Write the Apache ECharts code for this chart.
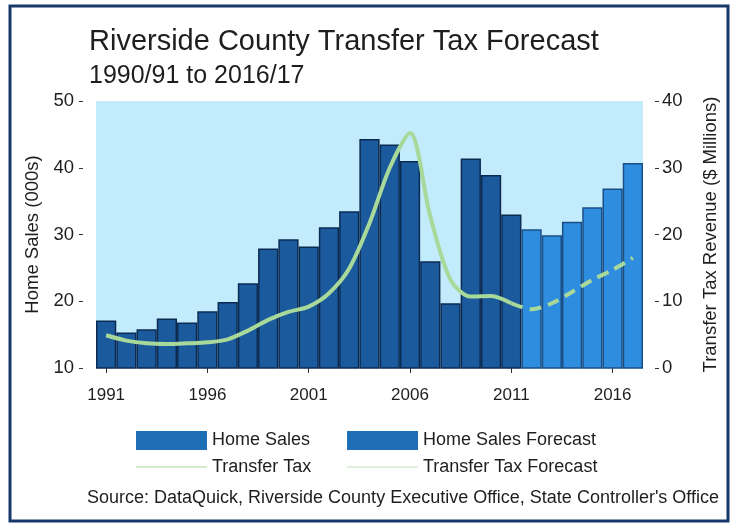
<!DOCTYPE html>
<html>
<head>
<meta charset="utf-8">
<script src="https://cdn.jsdelivr.net/npm/echarts@6/dist/echarts.min.js"></script>
<style>
html,body{margin:0;padding:0;background:#fff;}
#chart{width:735px;height:525px;}
</style>
</head>
<body>
<div id="chart"></div>
<script>
// ---- data ----
const years = ['1991','1992','1993','1994','1995','1996','1997','1998','1999','2000','2001','2002','2003','2004','2005','2006','2007','2008','2009','2010','2011','2012','2013','2014','2015','2016','2017'];
const tickYears = ['1991','1996','2001','2006','2011','2016'];
// Home sales (000s), actual 1991-2011
const homeSales = [17.1, 15.3, 15.8, 17.4, 16.8, 18.5, 19.9, 22.7, 27.9, 29.3, 28.2, 31.1, 33.5, 44.3, 43.5, 41.0, 26.0, 19.7, 41.4, 38.9, 33.0];
// Home sales forecast (000s), 2012-2017
const homeSalesForecast = [30.8, 29.9, 31.9, 34.1, 36.9, 40.7];
// Transfer tax revenue ($ millions), actual 1991-2011
const transferTax = [4.9, 4.1, 3.7, 3.6, 3.7, 3.85, 4.3, 5.6, 7.2, 8.4, 9.2, 11.2, 14.9, 21.7, 30.0, 35.2, 22.7, 13.2, 10.7, 10.8, 9.7];
// Transfer tax forecast ($ millions), 2011-2017
const transferTaxForecast = [9.7, 8.8, 9.7, 11.4, 13.2, 14.7, 16.5];
const leftTicks = [10, 20, 30, 40, 50];
const rightTicks = [0, 10, 20, 30, 40];

// ---- build aligned series arrays ----
const n = years.length;
const salesHist = years.map((y, i) => i < homeSales.length ? homeSales[i] : '-');
const fcStart = n - homeSalesForecast.length;
const salesFc = years.map((y, i) => i >= fcStart ? homeSalesForecast[i - fcStart] : '-');
const taxHist = years.map((y, i) => i < transferTax.length ? transferTax[i] : '-');
const taxFcStart = n - transferTaxForecast.length;
const taxFc = years.map((y, i) => i >= taxFcStart ? transferTaxForecast[i - taxFcStart] : '-');

const FONT = '"Liberation Sans", Arial, Helvetica, sans-serif';
const TXT = '#1e1e1e';
const chart = echarts.init(document.getElementById('chart'), null, {renderer: 'canvas'});

const lineColor = '#a8d99a';
const legendText = {fontFamily: FONT, fontSize: 18, color: TXT};

const option = {
  backgroundColor: '#ffffff',
  animation: false,
  textStyle: {fontFamily: FONT, color: TXT},
  title: [
    {text: 'Riverside County Transfer Tax Forecast', left: 84, top: 22,
     textStyle: {fontFamily: FONT, fontSize: 29, fontWeight: 'normal', color: TXT}},
    {text: '1990/91 to 2016/17', left: 84, top: 59,
     textStyle: {fontFamily: FONT, fontSize: 25, fontWeight: 'normal', color: TXT}},
    {text: "Source: DataQuick, Riverside County Executive Office, State Controller's Office", left: 82, top: 484,
     textStyle: {fontFamily: FONT, fontSize: 18, fontWeight: 'normal', color: TXT}}
  ],
  graphic: [
    {type: 'rect', shape: {x: 10, y: 6, width: 718, height: 515},
     style: {fill: 'none', stroke: '#16386b', lineWidth: 3}, silent: true, z: 100}
  ],
  legend: [
    {data: [{name: 'Home Sales', icon: 'rect', itemStyle: {color: '#1f6fb6', borderWidth: 0}}], left: 131, top: 426, itemWidth: 71, itemHeight: 19, itemGap: 10,
     textStyle: legendText, selectedMode: false},
    {data: [{name: 'Home Sales Forecast', icon: 'rect', itemStyle: {color: '#1f6fb6', borderWidth: 0}}], left: 342, top: 426, itemWidth: 71, itemHeight: 19, itemGap: 10,
     textStyle: legendText, selectedMode: false},
    {data: [{name: 'Transfer Tax', icon: 'rect', itemStyle: {color: '#d3eacc', borderWidth: 0}}], left: 131, top: 453, itemWidth: 71, itemHeight: 2, itemGap: 10,
     textStyle: legendText, selectedMode: false},
    {data: [{name: 'Transfer Tax Forecast', icon: 'rect', itemStyle: {color: '#e0f0da', borderWidth: 0}}], left: 342, top: 453, itemWidth: 71, itemHeight: 2, itemGap: 10,
     textStyle: legendText, selectedMode: false}
  ],
  grid: {left: 96, right: 92, top: 101, bottom: 157, show: true, backgroundColor: '#c2ecfb', borderWidth: 0, containLabel: false},
  xAxis: {
    type: 'category', data: years, boundaryGap: true, offset: 7,
    axisLine: {show: false},
    axisTick: {show: true, alignWithLabel: true, length: 5, lineStyle: {color: '#333'},
               interval: (i, v) => tickYears.indexOf(v) >= 0},
    axisLabel: {interval: (i, v) => tickYears.indexOf(v) >= 0, fontSize: 17, color: TXT, fontFamily: FONT, margin: 12},
    splitLine: {show: false}
  },
  yAxis: [
    {type: 'value', min: leftTicks[0], max: leftTicks[leftTicks.length - 1], interval: 10, position: 'left', offset: 13,
     name: 'Home Sales (000s)', nameLocation: 'middle', nameGap: 33, nameRotate: 90,
     nameTextStyle: {fontFamily: FONT, fontSize: 18.5, color: TXT},
     axisLine: {show: false}, axisTick: {show: true, length: 4, lineStyle: {color: '#333'}},
     axisLabel: {fontSize: 18.5, color: TXT, fontFamily: FONT, margin: 9},
     splitLine: {show: false}},
    {type: 'value', min: rightTicks[0], max: rightTicks[rightTicks.length - 1], interval: 10, position: 'right', offset: 12,
     name: 'Transfer Tax Revenue ($ Millions)', nameLocation: 'middle', nameGap: 46, nameRotate: 90,
     nameTextStyle: {fontFamily: FONT, fontSize: 18.5, color: TXT},
     axisLine: {show: false}, axisTick: {show: true, length: 4, lineStyle: {color: '#333'}},
     axisLabel: {fontSize: 18.5, color: TXT, fontFamily: FONT, margin: 7},
     splitLine: {show: false}}
  ],
  series: [
    {name: 'Home Sales', type: 'bar', data: salesHist, barCategoryGap: '0%', barGap: '-100%',
     itemStyle: {color: '#1b5b9d', borderColor: '#0b2a52', borderWidth: 1.5}, z: 2},
    {name: 'Home Sales Forecast', type: 'bar', data: salesFc, barCategoryGap: '0%', barGap: '-100%',
     itemStyle: {color: '#2f8de0', borderColor: '#1a4f86', borderWidth: 1.5}, z: 2},
    {name: 'Transfer Tax', type: 'line', yAxisIndex: 1, data: taxHist, smooth: 0.3, symbol: 'none',
     lineStyle: {color: lineColor, width: 4}, itemStyle: {color: lineColor}, z: 5},
    {name: 'Transfer Tax Forecast', type: 'line', yAxisIndex: 1, data: taxFc, smooth: 0.3, symbol: 'none',
     lineStyle: {color: lineColor, width: 4, type: [12, 7]}, itemStyle: {color: lineColor}, z: 5}
  ]
};
chart.setOption(option);
</script>
</body>
</html>
